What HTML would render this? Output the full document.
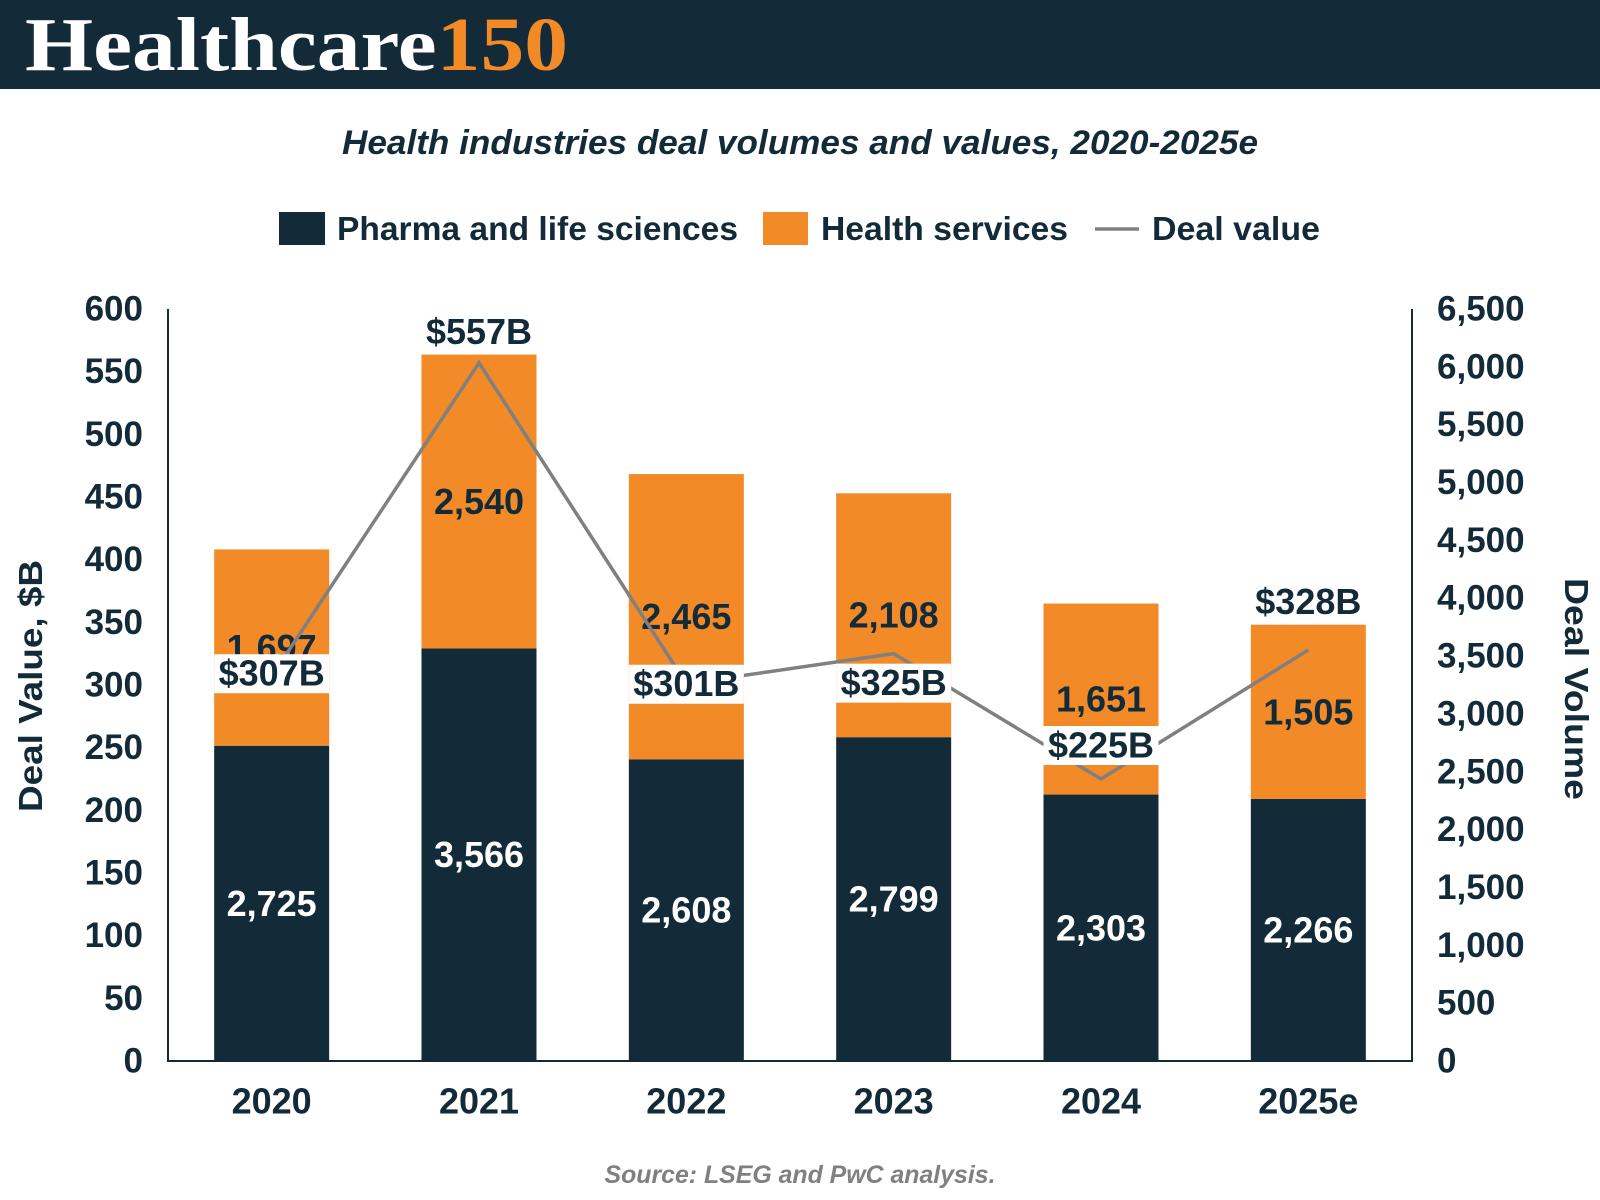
<!DOCTYPE html>
<html><head><meta charset="utf-8"><style>
html,body{margin:0;padding:0;background:#fff;}
svg{display:block;font-family:"Liberation Sans",sans-serif;}
</style></head><body>
<svg id="chart" width="1600" height="1200" viewBox="0 0 1600 1200" xmlns="http://www.w3.org/2000/svg">
<rect x="0" y="0" width="1600" height="89" fill="#132a38"/>
<text x="25" y="70" font-family="Liberation Serif, serif" font-weight="bold" font-size="76" textLength="543" lengthAdjust="spacingAndGlyphs"><tspan fill="#fff">Healthcare</tspan><tspan fill="#f28a27">150</tspan></text>
<text x="800" y="154" text-anchor="middle" font-size="34" font-weight="bold" font-style="italic" fill="#132a38" textLength="916" lengthAdjust="spacingAndGlyphs">Health industries deal volumes and values, 2020-2025e</text>
<g font-size="33" font-weight="bold" fill="#132a38">
<rect x="279" y="212" width="46" height="33" fill="#132a38"/>
<text x="337" y="240" textLength="401" lengthAdjust="spacingAndGlyphs">Pharma and life sciences</text>
<rect x="763" y="212" width="45" height="33" fill="#f28a27"/>
<text x="821" y="240" textLength="247" lengthAdjust="spacingAndGlyphs">Health services</text>
<line x1="1095" y1="229" x2="1139" y2="229" stroke="#808080" stroke-width="3.5"/>
<text x="1152" y="240" textLength="168" lengthAdjust="spacingAndGlyphs">Deal value</text>
</g>
<g id="plot"></g>
<text transform="translate(42,686) rotate(-90)" text-anchor="middle" font-size="33" font-weight="bold" fill="#132a38" textLength="252" lengthAdjust="spacingAndGlyphs">Deal Value, $B</text>
<text transform="translate(1565,689) rotate(90)" text-anchor="middle" font-size="33" font-weight="bold" fill="#132a38" textLength="222" lengthAdjust="spacingAndGlyphs">Deal Volume</text>
<text x="800" y="1183" text-anchor="middle" font-size="25" font-weight="bold" font-style="italic" fill="#808080" textLength="391" lengthAdjust="spacingAndGlyphs">Source: LSEG and PwC analysis.</text>
</svg>
<script>
const categories = ["2020","2021","2022","2023","2024","2025e"];
const pharma = [2725,3566,2608,2799,2303,2266];
const services = [1697,2540,2465,2108,1651,1505];
const dealValue = [307,557,301,325,225,328];
const leftTicks = [0,50,100,150,200,250,300,350,400,450,500,550,600];
const rightTicks = [0,500,1000,1500,2000,2500,3000,3500,4000,4500,5000,5500,6000,6500];
// label vertical nudges (style, px)
const labelNudge = [-3, 0, 0, 29, -34, 0];

const NS = "http://www.w3.org/2000/svg";
const L = 168, R = 1412, T = 309, B = 1061;
const DARK = "#132a38", ORANGE = "#f28a27";
const band = (R - L) / categories.length;
const bw = 115;
const xC = i => L + band * (i + 0.5);
const yL = v => B - v / 600 * (B - T);
const yR = v => B - v / 6500 * (B - T);
const fmt = n => n.toLocaleString("en-US");
const plot = document.getElementById("plot");
function mk(tag, attrs, parent) {
  const e = document.createElementNS(NS, tag);
  for (const k in attrs) e.setAttribute(k, attrs[k]);
  (parent || plot).appendChild(e);
  return e;
}
function txt(x, y, s, size, fill, anchor) {
  const t = mk("text", {x: x, y: y, "font-size": size, "font-weight": "bold", fill: fill, "text-anchor": anchor || "middle", "dominant-baseline": "central"});
  t.textContent = s;
  return t;
}
leftTicks.forEach(v => {
  const t = txt(143, yL(v), String(v), 35, DARK, "end");
  
  
});
rightTicks.forEach(v => {
  const t = txt(1437, yR(v), fmt(v), 35, DARK, "start");
  
  
});
categories.forEach((c, i) => {
  const x = xC(i) - bw / 2;
  const b1 = mk("rect", {x: x, y: yR(pharma[i]), width: bw, height: B - yR(pharma[i]), fill: DARK});
  
  
  const top = pharma[i] + services[i];
  const b2 = mk("rect", {x: x, y: yR(top), width: bw, height: yR(pharma[i]) - yR(top), fill: ORANGE});
  
  
  const xl = txt(xC(i), 1101, c, 36, DARK);
  
  
});
const ax = mk("path", {d: `M${L},${T} L${L},${B} L${R},${B} L${R},${T}`, fill: "none", stroke: DARK, "stroke-width": 2});


categories.forEach((c, i) => {
  const a = txt(xC(i), (yR(pharma[i]) + B) / 2, fmt(pharma[i]), 36, "#fff");
  
  
  const top = pharma[i] + services[i];
  const b = txt(xC(i), (yR(pharma[i]) + yR(top)) / 2, fmt(services[i]), 36, DARK);
  
  
});
const pts = dealValue.map((v, i) => xC(i) + "," + yL(v)).join(" ");
const line = mk("polyline", {points: pts, fill: "none", stroke: "#808080", "stroke-width": 3.5, "stroke-linejoin": "miter"});


dealValue.forEach((v, i) => {
  const py = yL(v);
  const topY = yR(pharma[i] + services[i]);
  let ly;
  if (py - topY < 40) {
    ly = topY - 23;
  } else {
    ly = py + labelNudge[i];
    const bx = mk("rect", {x: xC(i) - bw / 2, y: ly - 19, width: bw, height: 39, fill: "#fff"});
    
    
  }
  const t = txt(xC(i), ly, "$" + v + "B", 36, DARK);
  
  
});
</script>
</body></html>
